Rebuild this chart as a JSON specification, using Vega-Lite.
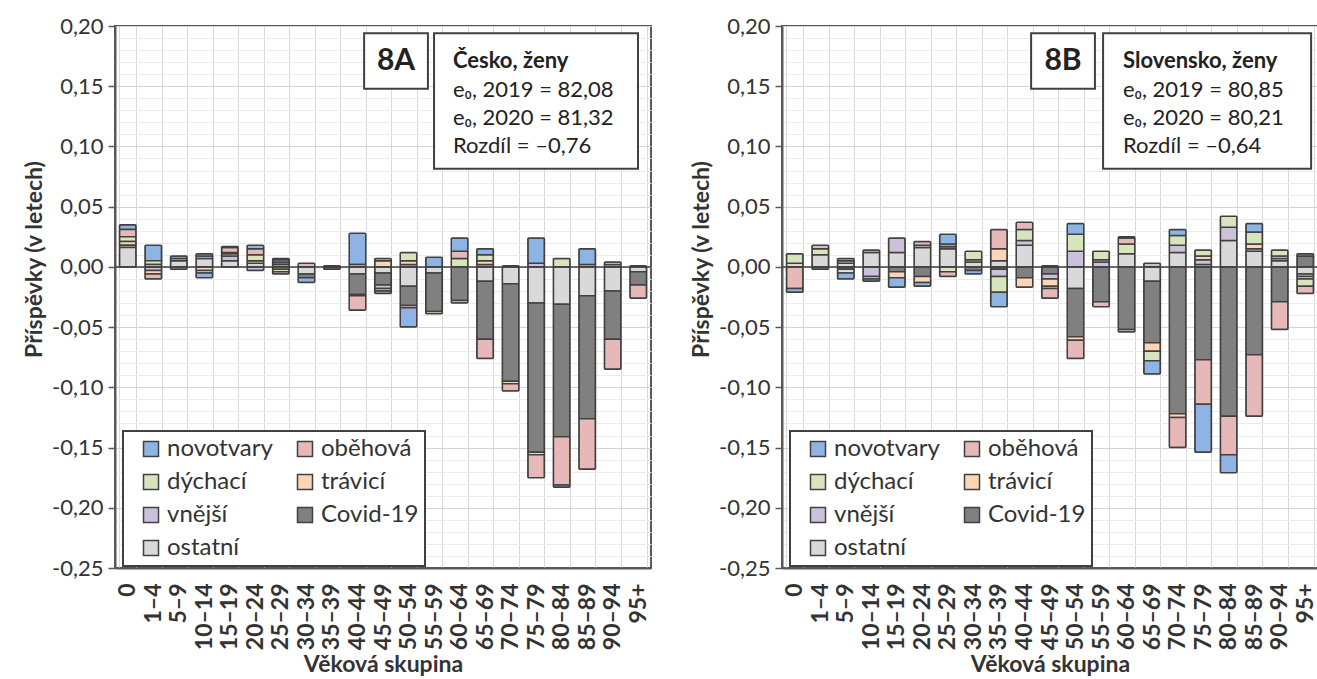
{
  "$schema": "https://vega.github.io/schema/vega-lite/v6.json",
  "background": "white",
  "padding": {"left": 22, "top": 14, "right": 0, "bottom": 0},
  "spacing": 36,
  "config": {
    "font": "Lato",
    "view": {"stroke": "#595959", "strokeWidth": 2},
    "axis": {"domainColor": "#595959", "domainWidth": 2, "labelColor": "#333333", "titleColor": "#333333", "labelFont": "Lato", "titleFont": "Lato"},
    "legend": {"strokeWidth": 2}
  },
  "resolve": {"scale": {"fill": "independent"}, "legend": {"fill": "independent"}},
  "datasets": {
    "causes": [
      {"cause": "ostatní", "rank": 1}, {"cause": "Covid-19", "rank": 2}, {"cause": "vnější", "rank": 3}, {"cause": "trávicí", "rank": 4}, {"cause": "dýchací", "rank": 5}, {"cause": "oběhová", "rank": 6}, {"cause": "novotvary", "rank": 7}
    ],
    "cz": [
      {"age": "0", "cause": "novotvary", "value": 0.004}, {"age": "0", "cause": "oběhová", "value": 0.006}, {"age": "0", "cause": "dýchací", "value": 0.004}, {"age": "0", "cause": "trávicí", "value": 0.003}, {"age": "0", "cause": "vnější", "value": 0.002}, {"age": "0", "cause": "ostatní", "value": 0.016},
      {"age": "1–4", "cause": "novotvary", "value": 0.013}, {"age": "1–4", "cause": "dýchací", "value": 0.003}, {"age": "1–4", "cause": "ostatní", "value": 0.002}, {"age": "1–4", "cause": "vnější", "value": -0.003}, {"age": "1–4", "cause": "trávicí", "value": -0.003}, {"age": "1–4", "cause": "oběhová", "value": -0.004},
      {"age": "5–9", "cause": "ostatní", "value": 0.005}, {"age": "5–9", "cause": "vnější", "value": 0.002}, {"age": "5–9", "cause": "novotvary", "value": 0.002}, {"age": "5–9", "cause": "dýchací", "value": -0.002},
      {"age": "10–14", "cause": "ostatní", "value": 0.007}, {"age": "10–14", "cause": "vnější", "value": 0.002}, {"age": "10–14", "cause": "oběhová", "value": 0.002}, {"age": "10–14", "cause": "trávicí", "value": -0.003}, {"age": "10–14", "cause": "dýchací", "value": -0.002}, {"age": "10–14", "cause": "novotvary", "value": -0.004},
      {"age": "15–19", "cause": "ostatní", "value": 0.005}, {"age": "15–19", "cause": "vnější", "value": 0.004}, {"age": "15–19", "cause": "trávicí", "value": 0.002}, {"age": "15–19", "cause": "dýchací", "value": 0.001}, {"age": "15–19", "cause": "oběhová", "value": 0.004}, {"age": "15–19", "cause": "novotvary", "value": 0.001},
      {"age": "20–24", "cause": "ostatní", "value": 0.003}, {"age": "20–24", "cause": "trávicí", "value": 0.002}, {"age": "20–24", "cause": "dýchací", "value": 0.005}, {"age": "20–24", "cause": "oběhová", "value": 0.005}, {"age": "20–24", "cause": "novotvary", "value": 0.003}, {"age": "20–24", "cause": "vnější", "value": -0.003},
      {"age": "25–29", "cause": "ostatní", "value": 0.002}, {"age": "25–29", "cause": "Covid-19", "value": 0.002}, {"age": "25–29", "cause": "vnější", "value": 0.002}, {"age": "25–29", "cause": "novotvary", "value": 0.001}, {"age": "25–29", "cause": "trávicí", "value": -0.002}, {"age": "25–29", "cause": "dýchací", "value": -0.002}, {"age": "25–29", "cause": "oběhová", "value": -0.002},
      {"age": "30–34", "cause": "oběhová", "value": 0.003}, {"age": "30–34", "cause": "ostatní", "value": -0.006}, {"age": "30–34", "cause": "Covid-19", "value": -0.003}, {"age": "30–34", "cause": "novotvary", "value": -0.004},
      {"age": "35–39", "cause": "ostatní", "value": 0.001}, {"age": "35–39", "cause": "Covid-19", "value": -0.002},
      {"age": "40–44", "cause": "novotvary", "value": 0.026}, {"age": "40–44", "cause": "vnější", "value": 0.002}, {"age": "40–44", "cause": "ostatní", "value": -0.006}, {"age": "40–44", "cause": "Covid-19", "value": -0.017}, {"age": "40–44", "cause": "dýchací", "value": -0.001}, {"age": "40–44", "cause": "oběhová", "value": -0.012},
      {"age": "45–49", "cause": "trávicí", "value": 0.005}, {"age": "45–49", "cause": "dýchací", "value": 0.002}, {"age": "45–49", "cause": "ostatní", "value": -0.005}, {"age": "45–49", "cause": "Covid-19", "value": -0.010}, {"age": "45–49", "cause": "vnější", "value": -0.003}, {"age": "45–49", "cause": "oběhová", "value": -0.002}, {"age": "45–49", "cause": "novotvary", "value": -0.002},
      {"age": "50–54", "cause": "vnější", "value": 0.002}, {"age": "50–54", "cause": "trávicí", "value": 0.003}, {"age": "50–54", "cause": "dýchací", "value": 0.007}, {"age": "50–54", "cause": "ostatní", "value": -0.016}, {"age": "50–54", "cause": "Covid-19", "value": -0.016}, {"age": "50–54", "cause": "oběhová", "value": -0.002}, {"age": "50–54", "cause": "novotvary", "value": -0.016},
      {"age": "55–59", "cause": "novotvary", "value": 0.008}, {"age": "55–59", "cause": "ostatní", "value": -0.005}, {"age": "55–59", "cause": "Covid-19", "value": -0.032}, {"age": "55–59", "cause": "trávicí", "value": -0.002},
      {"age": "60–64", "cause": "dýchací", "value": 0.007}, {"age": "60–64", "cause": "oběhová", "value": 0.006}, {"age": "60–64", "cause": "novotvary", "value": 0.011}, {"age": "60–64", "cause": "Covid-19", "value": -0.028}, {"age": "60–64", "cause": "trávicí", "value": -0.002},
      {"age": "65–69", "cause": "vnější", "value": 0.002}, {"age": "65–69", "cause": "trávicí", "value": 0.003}, {"age": "65–69", "cause": "dýchací", "value": 0.005}, {"age": "65–69", "cause": "novotvary", "value": 0.005}, {"age": "65–69", "cause": "ostatní", "value": -0.012}, {"age": "65–69", "cause": "Covid-19", "value": -0.048}, {"age": "65–69", "cause": "oběhová", "value": -0.016},
      {"age": "70–74", "cause": "dýchací", "value": 0.001}, {"age": "70–74", "cause": "ostatní", "value": -0.014}, {"age": "70–74", "cause": "Covid-19", "value": -0.081}, {"age": "70–74", "cause": "trávicí", "value": -0.002}, {"age": "70–74", "cause": "oběhová", "value": -0.006},
      {"age": "75–79", "cause": "vnější", "value": 0.003}, {"age": "75–79", "cause": "novotvary", "value": 0.021}, {"age": "75–79", "cause": "ostatní", "value": -0.030}, {"age": "75–79", "cause": "Covid-19", "value": -0.124}, {"age": "75–79", "cause": "trávicí", "value": -0.002}, {"age": "75–79", "cause": "oběhová", "value": -0.019},
      {"age": "80–84", "cause": "dýchací", "value": 0.007}, {"age": "80–84", "cause": "ostatní", "value": -0.031}, {"age": "80–84", "cause": "Covid-19", "value": -0.110}, {"age": "80–84", "cause": "oběhová", "value": -0.040}, {"age": "80–84", "cause": "novotvary", "value": -0.002},
      {"age": "85–89", "cause": "trávicí", "value": 0.002}, {"age": "85–89", "cause": "novotvary", "value": 0.013}, {"age": "85–89", "cause": "ostatní", "value": -0.024}, {"age": "85–89", "cause": "Covid-19", "value": -0.102}, {"age": "85–89", "cause": "oběhová", "value": -0.042},
      {"age": "90–94", "cause": "vnější", "value": 0.002}, {"age": "90–94", "cause": "dýchací", "value": 0.002}, {"age": "90–94", "cause": "ostatní", "value": -0.020}, {"age": "90–94", "cause": "Covid-19", "value": -0.040}, {"age": "90–94", "cause": "oběhová", "value": -0.025},
      {"age": "95+", "cause": "dýchací", "value": 0.001}, {"age": "95+", "cause": "ostatní", "value": -0.004}, {"age": "95+", "cause": "Covid-19", "value": -0.011}, {"age": "95+", "cause": "oběhová", "value": -0.011}
    ],
    "sk": [
      {"age": "0", "cause": "ostatní", "value": 0.003}, {"age": "0", "cause": "dýchací", "value": 0.008}, {"age": "0", "cause": "oběhová", "value": -0.018}, {"age": "0", "cause": "novotvary", "value": -0.003},
      {"age": "1–4", "cause": "ostatní", "value": 0.010}, {"age": "1–4", "cause": "dýchací", "value": 0.005}, {"age": "1–4", "cause": "oběhová", "value": 0.003}, {"age": "1–4", "cause": "novotvary", "value": -0.002},
      {"age": "5–9", "cause": "ostatní", "value": 0.003}, {"age": "5–9", "cause": "vnější", "value": 0.002}, {"age": "5–9", "cause": "oběhová", "value": 0.002}, {"age": "5–9", "cause": "Covid-19", "value": -0.002}, {"age": "5–9", "cause": "dýchací", "value": -0.003}, {"age": "5–9", "cause": "novotvary", "value": -0.005},
      {"age": "10–14", "cause": "ostatní", "value": 0.012}, {"age": "10–14", "cause": "oběhová", "value": 0.002}, {"age": "10–14", "cause": "vnější", "value": -0.008}, {"age": "10–14", "cause": "trávicí", "value": -0.002}, {"age": "10–14", "cause": "novotvary", "value": -0.002},
      {"age": "15–19", "cause": "ostatní", "value": 0.012}, {"age": "15–19", "cause": "vnější", "value": 0.012}, {"age": "15–19", "cause": "Covid-19", "value": -0.004}, {"age": "15–19", "cause": "trávicí", "value": -0.005}, {"age": "15–19", "cause": "novotvary", "value": -0.008},
      {"age": "20–24", "cause": "ostatní", "value": 0.016}, {"age": "20–24", "cause": "vnější", "value": 0.002}, {"age": "20–24", "cause": "oběhová", "value": 0.003}, {"age": "20–24", "cause": "Covid-19", "value": -0.008}, {"age": "20–24", "cause": "trávicí", "value": -0.005}, {"age": "20–24", "cause": "novotvary", "value": -0.003},
      {"age": "25–29", "cause": "ostatní", "value": 0.015}, {"age": "25–29", "cause": "Covid-19", "value": 0.002}, {"age": "25–29", "cause": "vnější", "value": 0.002}, {"age": "25–29", "cause": "novotvary", "value": 0.008}, {"age": "25–29", "cause": "dýchací", "value": -0.004}, {"age": "25–29", "cause": "oběhová", "value": -0.004},
      {"age": "30–34", "cause": "ostatní", "value": 0.004}, {"age": "30–34", "cause": "trávicí", "value": 0.002}, {"age": "30–34", "cause": "dýchací", "value": 0.007}, {"age": "30–34", "cause": "Covid-19", "value": -0.003}, {"age": "30–34", "cause": "novotvary", "value": -0.003},
      {"age": "35–39", "cause": "ostatní", "value": 0.005}, {"age": "35–39", "cause": "trávicí", "value": 0.010}, {"age": "35–39", "cause": "oběhová", "value": 0.016}, {"age": "35–39", "cause": "Covid-19", "value": -0.002}, {"age": "35–39", "cause": "vnější", "value": -0.006}, {"age": "35–39", "cause": "dýchací", "value": -0.013}, {"age": "35–39", "cause": "novotvary", "value": -0.012},
      {"age": "40–44", "cause": "ostatní", "value": 0.018}, {"age": "40–44", "cause": "vnější", "value": 0.004}, {"age": "40–44", "cause": "dýchací", "value": 0.009}, {"age": "40–44", "cause": "oběhová", "value": 0.006}, {"age": "40–44", "cause": "Covid-19", "value": -0.009}, {"age": "40–44", "cause": "trávicí", "value": -0.008},
      {"age": "45–49", "cause": "ostatní", "value": 0.001}, {"age": "45–49", "cause": "Covid-19", "value": -0.006}, {"age": "45–49", "cause": "vnější", "value": -0.004}, {"age": "45–49", "cause": "trávicí", "value": -0.006}, {"age": "45–49", "cause": "dýchací", "value": -0.002}, {"age": "45–49", "cause": "oběhová", "value": -0.008},
      {"age": "50–54", "cause": "vnější", "value": 0.013}, {"age": "50–54", "cause": "dýchací", "value": 0.014}, {"age": "50–54", "cause": "novotvary", "value": 0.009}, {"age": "50–54", "cause": "ostatní", "value": -0.018}, {"age": "50–54", "cause": "Covid-19", "value": -0.040}, {"age": "50–54", "cause": "trávicí", "value": -0.003}, {"age": "50–54", "cause": "oběhová", "value": -0.015},
      {"age": "55–59", "cause": "vnější", "value": 0.004}, {"age": "55–59", "cause": "trávicí", "value": 0.002}, {"age": "55–59", "cause": "dýchací", "value": 0.007}, {"age": "55–59", "cause": "Covid-19", "value": -0.029}, {"age": "55–59", "cause": "oběhová", "value": -0.004},
      {"age": "60–64", "cause": "ostatní", "value": 0.011}, {"age": "60–64", "cause": "dýchací", "value": 0.008}, {"age": "60–64", "cause": "oběhová", "value": 0.005}, {"age": "60–64", "cause": "novotvary", "value": 0.001}, {"age": "60–64", "cause": "Covid-19", "value": -0.052}, {"age": "60–64", "cause": "vnější", "value": -0.002},
      {"age": "65–69", "cause": "vnější", "value": 0.003}, {"age": "65–69", "cause": "ostatní", "value": -0.012}, {"age": "65–69", "cause": "Covid-19", "value": -0.051}, {"age": "65–69", "cause": "trávicí", "value": -0.007}, {"age": "65–69", "cause": "dýchací", "value": -0.008}, {"age": "65–69", "cause": "novotvary", "value": -0.011},
      {"age": "70–74", "cause": "ostatní", "value": 0.012}, {"age": "70–74", "cause": "vnější", "value": 0.006}, {"age": "70–74", "cause": "dýchací", "value": 0.008}, {"age": "70–74", "cause": "novotvary", "value": 0.005}, {"age": "70–74", "cause": "Covid-19", "value": -0.122}, {"age": "70–74", "cause": "trávicí", "value": -0.003}, {"age": "70–74", "cause": "oběhová", "value": -0.025},
      {"age": "75–79", "cause": "ostatní", "value": 0.002}, {"age": "75–79", "cause": "vnější", "value": 0.004}, {"age": "75–79", "cause": "trávicí", "value": 0.003}, {"age": "75–79", "cause": "dýchací", "value": 0.005}, {"age": "75–79", "cause": "Covid-19", "value": -0.077}, {"age": "75–79", "cause": "oběhová", "value": -0.037}, {"age": "75–79", "cause": "novotvary", "value": -0.040},
      {"age": "80–84", "cause": "ostatní", "value": 0.022}, {"age": "80–84", "cause": "vnější", "value": 0.011}, {"age": "80–84", "cause": "dýchací", "value": 0.009}, {"age": "80–84", "cause": "Covid-19", "value": -0.124}, {"age": "80–84", "cause": "oběhová", "value": -0.032}, {"age": "80–84", "cause": "novotvary", "value": -0.015},
      {"age": "85–89", "cause": "ostatní", "value": 0.013}, {"age": "85–89", "cause": "vnější", "value": 0.002}, {"age": "85–89", "cause": "trávicí", "value": 0.004}, {"age": "85–89", "cause": "dýchací", "value": 0.010}, {"age": "85–89", "cause": "novotvary", "value": 0.007}, {"age": "85–89", "cause": "Covid-19", "value": -0.073}, {"age": "85–89", "cause": "oběhová", "value": -0.051},
      {"age": "90–94", "cause": "ostatní", "value": 0.005}, {"age": "90–94", "cause": "vnější", "value": 0.002}, {"age": "90–94", "cause": "trávicí", "value": 0.002}, {"age": "90–94", "cause": "dýchací", "value": 0.005}, {"age": "90–94", "cause": "Covid-19", "value": -0.029}, {"age": "90–94", "cause": "oběhová", "value": -0.023},
      {"age": "95+", "cause": "Covid-19", "value": 0.009}, {"age": "95+", "cause": "novotvary", "value": 0.002}, {"age": "95+", "cause": "ostatní", "value": -0.006}, {"age": "95+", "cause": "vnější", "value": -0.002}, {"age": "95+", "cause": "trávicí", "value": -0.002}, {"age": "95+", "cause": "dýchací", "value": -0.006}, {"age": "95+", "cause": "oběhová", "value": -0.006}
    ]
  },
  "hconcat": [
    {
      "width": 536,
      "height": 542,
      "resolve": {"scale": {"x": "independent"}, "axis": {"y": "independent"}},
      "layer": [
        {
          "data": {"values": [{}]},
          "mark": {"type": "rule", "opacity": 0},
          "encoding": {
            "y": {"datum": 0, "axis": {"values": [-0.24, -0.23, -0.22, -0.21, -0.19, -0.18, -0.17, -0.16, -0.14, -0.13, -0.12, -0.11, -0.09, -0.08, -0.07, -0.06, -0.04, -0.03, -0.02, -0.01, 0.01, 0.02, 0.03, 0.04, 0.06, 0.07, 0.08, 0.09, 0.11, 0.12, 0.13, 0.14, 0.16, 0.17, 0.18, 0.19], "grid": true, "gridColor": "#ebebeb", "labels": false, "ticks": false, "domain": false, "title": null, "orient": "right"}}
          }
        },
        {
          "data": {"name": "cz"},
          "transform": [{"lookup": "cause", "from": {"data": {"name": "causes"}, "key": "cause", "fields": ["rank"]}}],
          "mark": {"type": "bar", "stroke": "#404040", "strokeWidth": 1.5, "cornerRadius": 1},
          "encoding": {
            "x": {"field": "age", "type": "nominal", "sort": ["0", "1–4", "5–9", "10–14", "15–19", "20–24", "25–29", "30–34", "35–39", "40–44", "45–49", "50–54", "55–59", "60–64", "65–69", "70–74", "75–79", "80–84", "85–89", "90–94", "95+"], "scale": {"paddingInner": 0.35, "paddingOuter": 0.175},
              "axis": {"title": "Věková skupina", "titleFontSize": 23, "titleFontWeight": "bold", "titlePadding": 4, "labelAngle": -90, "labelFontSize": 23, "labelFontWeight": "bold", "labelPadding": 15, "ticks": false, "grid": true, "tickBand": "extent", "gridColor": "#d9d9d9", "gridWidth": 1}},
            "y": {"field": "value", "type": "quantitative", "stack": "zero", "scale": {"domain": [-0.25, 0.2], "nice": false, "zero": false},
              "axis": {"title": "Příspěvky (v letech)", "titleFontSize": 23, "titleFontWeight": "bold", "titlePadding": 5, "titleY": 233, "labelFontSize": 22, "labelPadding": 5, "tickSize": 7, "tickColor": "#595959", "tickWidth": 1.5,
                "values": [-0.25, -0.2, -0.15, -0.1, -0.05, 0, 0.05, 0.1, 0.15, 0.2],
                "labelExpr": "replace(replace(format(datum.value, '.2f'), '.', ','), '−', '-')",
                "gridColor": "#d4d4d4", "grid": true, "orient": "left"}},
            "order": {"field": "rank", "type": "quantitative", "sort": "ascending"},
            "fill": {"field": "cause", "type": "nominal",
              "scale": {"domain": ["novotvary", "oběhová", "dýchací", "trávicí", "vnější", "Covid-19", "ostatní"], "range": ["#8DB4E2", "#E6B9B8", "#D7E4BD", "#FCD5B5", "#CCC1DA", "#808080", "#D9D9D9"]},
              "legend": {"orient": "none", "legendX": 8, "legendY": 405, "direction": "horizontal", "columns": 2, "title": null, "symbolType": "square", "symbolSize": 225, "symbolStrokeColor": "#404040", "symbolStrokeWidth": 1.5, "labelFontSize": 24, "labelFont": "Lato", "labelColor": "#333333", "rowPadding": 9, "columnPadding": 10, "padding": 6, "symbolOffset": 10, "labelLimit": 250, "fillColor": "white", "strokeColor": "#404040"}}
          }
        },
        {
          "data": {"values": [{}]},
          "mark": {"type": "rule", "color": "#404040", "strokeWidth": 1.5},
          "encoding": {"y": {"datum": 0, "axis": null}}
        },
        {
          "data": {"values": [{}]},
          "mark": {"type": "rect", "fill": "white", "stroke": "#404040", "strokeWidth": 2},
          "encoding": {
            "x": {"datum": 9.76, "type": "quantitative", "scale": {"domain": [0, 21], "nice": false, "zero": false}, "axis": null},
            "x2": {"datum": 12.26},
            "y": {"datum": 0.194, "axis": null}, "y2": {"datum": 0.148}
          }
        },
        {
          "data": {"values": [{}]},
          "mark": {"type": "rect", "fill": "white", "stroke": "#404040", "strokeWidth": 2},
          "encoding": {
            "x": {"datum": 12.5, "type": "quantitative", "scale": {"domain": [0, 21], "nice": false, "zero": false}, "axis": null},
            "x2": {"datum": 20.49},
            "y": {"datum": 0.194, "axis": null}, "y2": {"datum": 0.0814}
          }
        },
        {
          "data": {"values": [{}]},
          "mark": {"type": "text", "fontSize": 30, "fontWeight": "bold", "align": "center", "baseline": "middle", "color": "#222222"},
          "encoding": {
            "x": {"datum": 11.01, "type": "quantitative", "scale": {"domain": [0, 21], "nice": false, "zero": false}, "axis": null},
            "y": {"datum": 0.171, "axis": null},
            "text": {"value": "8A"}
          }
        },
        {
          "data": {"values": [{}]},
          "mark": {"type": "text", "fontSize": 22, "fontWeight": "bold", "align": "left", "baseline": "middle", "color": "#222222"},
          "encoding": {
            "x": {"datum": 13.24, "type": "quantitative", "scale": {"domain": [0, 21], "nice": false, "zero": false}, "axis": null},
            "y": {"datum": 0.171, "axis": null},
            "text": {"value": "Česko, ženy"}
          }
        },
        {
          "data": {"values": [{}]},
          "mark": {"type": "text", "fontSize": 22, "align": "left", "baseline": "middle", "lineHeight": 28, "color": "#222222"},
          "encoding": {
            "x": {"datum": 13.24, "type": "quantitative", "scale": {"domain": [0, 21], "nice": false, "zero": false}, "axis": null},
            "y": {"datum": 0.147, "axis": null},
            "text": {"value": ["e₀, 2019 = 82,08", "e₀, 2020 = 81,32", "Rozdíl = –0,76"]}
          }
        }
      ]
    },
    {
      "width": 536,
      "height": 542,
      "resolve": {"scale": {"x": "independent"}, "axis": {"y": "independent"}},
      "layer": [
        {
          "data": {"values": [{}]},
          "mark": {"type": "rule", "opacity": 0},
          "encoding": {
            "y": {"datum": 0, "axis": {"values": [-0.24, -0.23, -0.22, -0.21, -0.19, -0.18, -0.17, -0.16, -0.14, -0.13, -0.12, -0.11, -0.09, -0.08, -0.07, -0.06, -0.04, -0.03, -0.02, -0.01, 0.01, 0.02, 0.03, 0.04, 0.06, 0.07, 0.08, 0.09, 0.11, 0.12, 0.13, 0.14, 0.16, 0.17, 0.18, 0.19], "grid": true, "gridColor": "#ebebeb", "labels": false, "ticks": false, "domain": false, "title": null, "orient": "right"}}
          }
        },
        {
          "data": {"name": "sk"},
          "transform": [{"lookup": "cause", "from": {"data": {"name": "causes"}, "key": "cause", "fields": ["rank"]}}],
          "mark": {"type": "bar", "stroke": "#404040", "strokeWidth": 1.5, "cornerRadius": 1},
          "encoding": {
            "x": {"field": "age", "type": "nominal", "sort": ["0", "1–4", "5–9", "10–14", "15–19", "20–24", "25–29", "30–34", "35–39", "40–44", "45–49", "50–54", "55–59", "60–64", "65–69", "70–74", "75–79", "80–84", "85–89", "90–94", "95+"], "scale": {"paddingInner": 0.35, "paddingOuter": 0.175},
              "axis": {"title": "Věková skupina", "titleFontSize": 23, "titleFontWeight": "bold", "titlePadding": 4, "labelAngle": -90, "labelFontSize": 23, "labelFontWeight": "bold", "labelPadding": 15, "ticks": false, "grid": true, "tickBand": "extent", "gridColor": "#d9d9d9", "gridWidth": 1}},
            "y": {"field": "value", "type": "quantitative", "stack": "zero", "scale": {"domain": [-0.25, 0.2], "nice": false, "zero": false},
              "axis": {"title": "Příspěvky (v letech)", "titleFontSize": 23, "titleFontWeight": "bold", "titlePadding": 5, "titleY": 233, "labelFontSize": 22, "labelPadding": 5, "tickSize": 7, "tickColor": "#595959", "tickWidth": 1.5,
                "values": [-0.25, -0.2, -0.15, -0.1, -0.05, 0, 0.05, 0.1, 0.15, 0.2],
                "labelExpr": "replace(replace(format(datum.value, '.2f'), '.', ','), '−', '-')",
                "gridColor": "#d4d4d4", "grid": true, "orient": "left"}},
            "order": {"field": "rank", "type": "quantitative", "sort": "ascending"},
            "fill": {"field": "cause", "type": "nominal",
              "scale": {"domain": ["novotvary", "oběhová", "dýchací", "trávicí", "vnější", "Covid-19", "ostatní"], "range": ["#8DB4E2", "#E6B9B8", "#D7E4BD", "#FCD5B5", "#CCC1DA", "#808080", "#D9D9D9"]},
              "legend": {"orient": "none", "legendX": 8, "legendY": 405, "direction": "horizontal", "columns": 2, "title": null, "symbolType": "square", "symbolSize": 225, "symbolStrokeColor": "#404040", "symbolStrokeWidth": 1.5, "labelFontSize": 24, "labelFont": "Lato", "labelColor": "#333333", "rowPadding": 9, "columnPadding": 10, "padding": 6, "symbolOffset": 10, "labelLimit": 250, "fillColor": "white", "strokeColor": "#404040"}}
          }
        },
        {
          "data": {"values": [{}]},
          "mark": {"type": "rule", "color": "#404040", "strokeWidth": 1.5},
          "encoding": {"y": {"datum": 0, "axis": null}}
        },
        {
          "data": {"values": [{}]},
          "mark": {"type": "rect", "fill": "white", "stroke": "#404040", "strokeWidth": 2},
          "encoding": {
            "x": {"datum": 9.76, "type": "quantitative", "scale": {"domain": [0, 21], "nice": false, "zero": false}, "axis": null},
            "x2": {"datum": 12.26},
            "y": {"datum": 0.194, "axis": null}, "y2": {"datum": 0.148}
          }
        },
        {
          "data": {"values": [{}]},
          "mark": {"type": "rect", "fill": "white", "stroke": "#404040", "strokeWidth": 2},
          "encoding": {
            "x": {"datum": 12.58, "type": "quantitative", "scale": {"domain": [0, 21], "nice": false, "zero": false}, "axis": null},
            "x2": {"datum": 20.73},
            "y": {"datum": 0.194, "axis": null}, "y2": {"datum": 0.0814}
          }
        },
        {
          "data": {"values": [{}]},
          "mark": {"type": "text", "fontSize": 30, "fontWeight": "bold", "align": "center", "baseline": "middle", "color": "#222222"},
          "encoding": {
            "x": {"datum": 11.01, "type": "quantitative", "scale": {"domain": [0, 21], "nice": false, "zero": false}, "axis": null},
            "y": {"datum": 0.171, "axis": null},
            "text": {"value": "8B"}
          }
        },
        {
          "data": {"values": [{}]},
          "mark": {"type": "text", "fontSize": 22, "fontWeight": "bold", "align": "left", "baseline": "middle", "color": "#222222"},
          "encoding": {
            "x": {"datum": 13.36, "type": "quantitative", "scale": {"domain": [0, 21], "nice": false, "zero": false}, "axis": null},
            "y": {"datum": 0.171, "axis": null},
            "text": {"value": "Slovensko, ženy"}
          }
        },
        {
          "data": {"values": [{}]},
          "mark": {"type": "text", "fontSize": 22, "align": "left", "baseline": "middle", "lineHeight": 28, "color": "#222222"},
          "encoding": {
            "x": {"datum": 13.36, "type": "quantitative", "scale": {"domain": [0, 21], "nice": false, "zero": false}, "axis": null},
            "y": {"datum": 0.147, "axis": null},
            "text": {"value": ["e₀, 2019 = 80,85", "e₀, 2020 = 80,21", "Rozdíl = –0,64"]}
          }
        }
      ]
    }
  ]
}
